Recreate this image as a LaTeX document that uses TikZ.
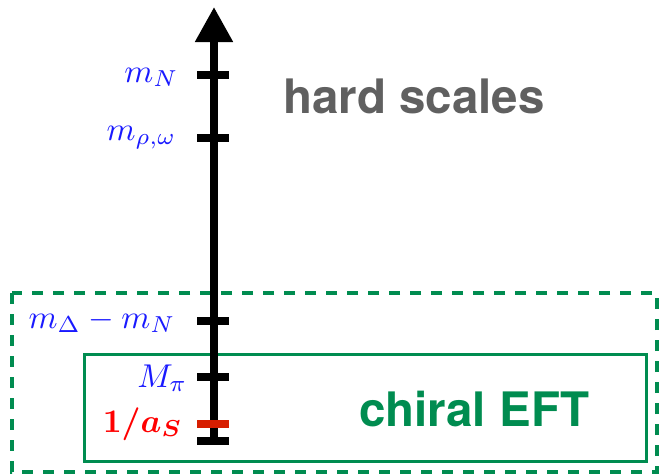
\documentclass[tikz,border=0pt]{standalone}
\usepackage{fontspec}
\usepackage{amsmath}
\newfontfamily\heros{TeX Gyre Heros}
\usetikzlibrary{arrows.meta}
\definecolor{eftgreen}{RGB}{0,140,80}
\definecolor{labblue}{RGB}{25,25,255}
\definecolor{tickred}{RGB}{215,30,0}
\definecolor{hardgray}{RGB}{96,96,96}
\tikzset{
  tickmark/.style={line width=8.5pt,black},
  lab/.style={anchor=base east,inner sep=0pt,labblue,scale=3.3},
  bigtext/.style={anchor=base west,inner sep=0pt,font=\heros\bfseries\fontsize{47.5}{50}\selectfont}
}
\begin{document}
\begin{tikzpicture}[x=1pt,y=-1pt]
\useasboundingbox (0,0) rectangle (660,475);
% boxes
\draw[eftgreen,line width=4pt,dash pattern=on 11pt off 10pt] (12,293) rectangle (657,472);
\draw[eftgreen,line width=3pt] (84,354) rectangle (646,461);
% axis
\coordinate (bot) at (214,444);
\coordinate (top) at (214,7);
\draw[line width=8pt,-{Triangle[length=35pt,width=36pt]}] (bot) -- (top);
% ticks
\foreach \y/\n in {75/tN,138/trho,321/tdel,377/tpi,441/tbot}{
  \coordinate (\n l) at (197,\y);
  \coordinate (\n r) at (229,\y);
  \draw[tickmark] (\n l) -- (\n r);
}
\coordinate (tasl) at (197,424);
\coordinate (tasr) at (229,424);
\draw[tickmark,tickred] (tasl) -- (tasr);
% labels
\node[lab] (lN) at (179,82) {$m_N$};
\node[lab] (lrho) at (177,140) {$m_{\rho,\omega}$};
\node[lab] (ldel) at (176,328) {$m_\Delta - m_N$};
\node[lab] (lpi) at (188,387) {$M_\pi$};
\node[lab,red] (las) at (183,432) {$\boldsymbol{1/a_S}$};
\node[bigtext,hardgray] (hard) at (283,113) {hard scales};
\node[bigtext,eftgreen] (eft) at (359,426) {chiral EFT};
\end{tikzpicture}
\end{document}
